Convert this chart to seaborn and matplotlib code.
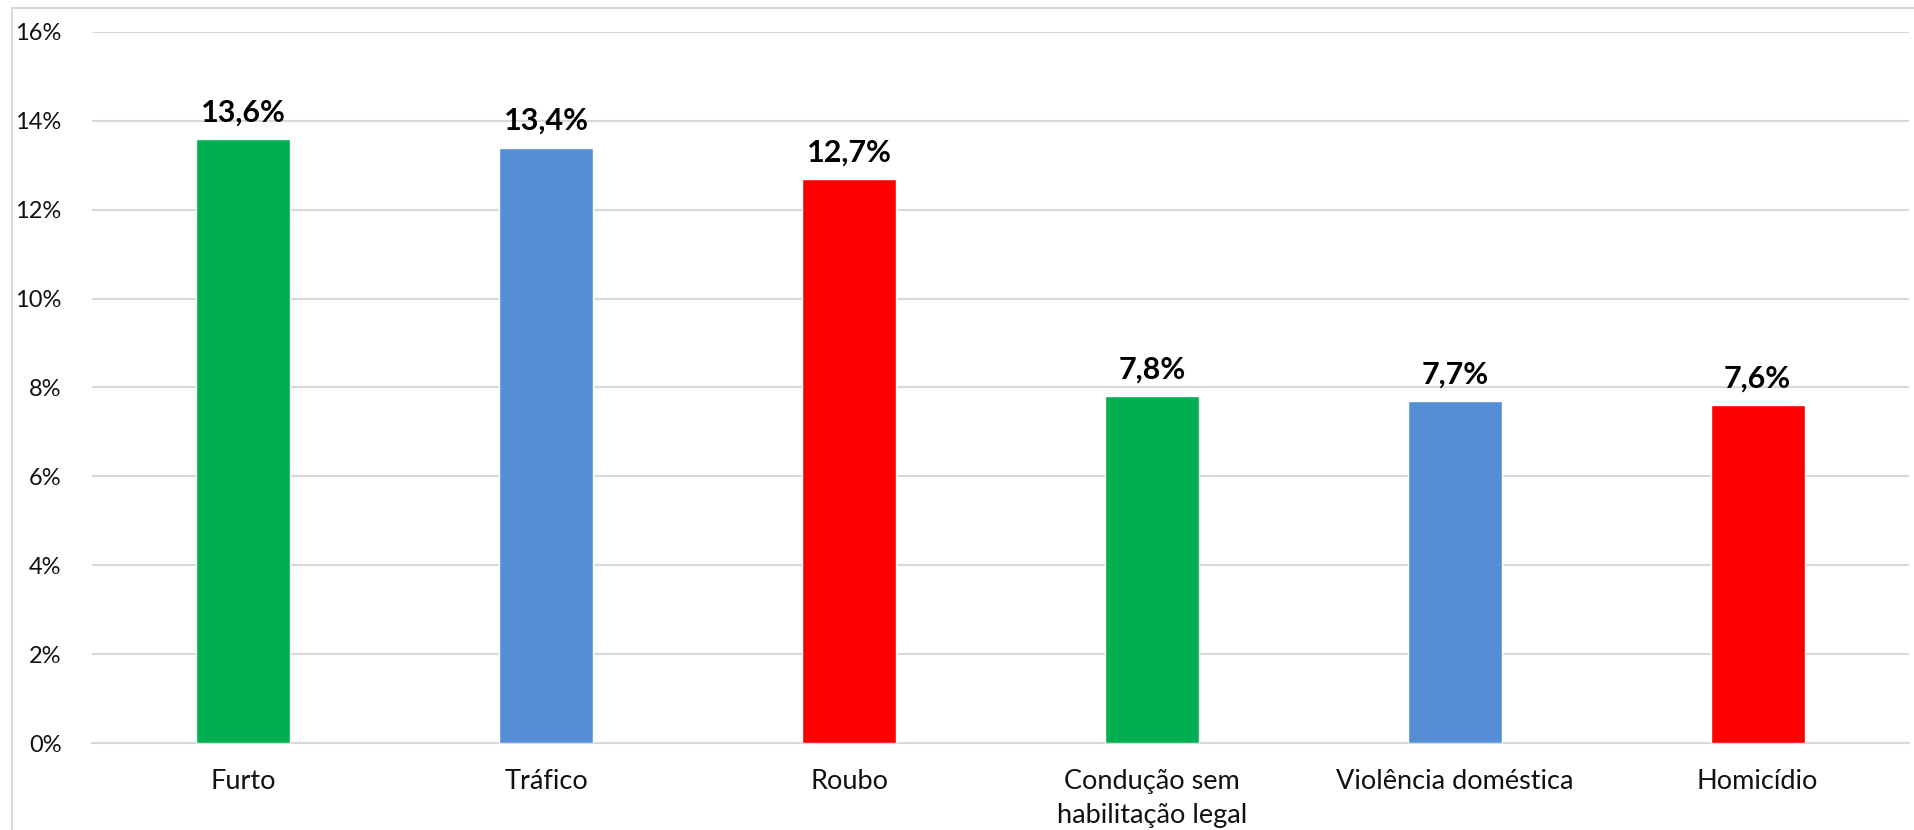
import matplotlib
matplotlib.use("Agg")
import matplotlib.pyplot as plt
from matplotlib.patches import Rectangle
from matplotlib.ticker import FixedLocator
import seaborn as sns
import pandas as pd

categories = ["Furto", "Tráfico", "Roubo", "Condução sem\nhabilitação legal",
              "Violência doméstica", "Homicídio"]
values = [13.6, 13.4, 12.7, 7.8, 7.7, 7.6]
colors = ["#00B050", "#558ED5", "#FF0000", "#00B050", "#558ED5", "#FF0000"]
yticks = [0, 2, 4, 6, 8, 10, 12, 14, 16]

sns.set_theme(style="white")
plt.rcParams['font.family'] = ['Lato', 'DejaVu Sans']

df = pd.DataFrame({"cat": categories, "val": values})

fig = plt.figure(figsize=(19.14, 8.30), dpi=100)
ax = fig.add_axes([92/1914, 1-743/830, (1909-92)/1914, (743-32)/830])

sns.barplot(data=df, x="cat", y="val", hue="cat", palette=colors,
            order=categories, hue_order=categories, legend=False,
            width=0.31, saturation=1, ax=ax, zorder=3)

ax.set_ylim(0, 16)
ax.yaxis.set_major_locator(FixedLocator(yticks))
ax.set_yticklabels([f"{t}%" for t in yticks])
ax.grid(axis="y", color="#D9D9D9", linewidth=1.5, zorder=0)
ax.set_axisbelow(True)
for s in ["left", "right", "top"]:
    ax.spines[s].set_visible(False)
ax.spines["bottom"].set_color("#D9D9D9")
ax.spines["bottom"].set_linewidth(1.5)
ax.set_xlabel("")
ax.set_ylabel("")
ax.tick_params(axis="y", length=0, pad=22, labelsize=17, labelcolor="#111111")
ax.tick_params(axis="x", length=0, pad=19, labelsize=19.5, labelcolor="#111111")
for lbl in ax.get_xticklabels():
    lbl.set_linespacing(1.45)
    lbl.set_verticalalignment("top")

for i, v in enumerate(values):
    ax.annotate(f"{v:.1f}".replace(".", ",") + "%", (i, v),
                xytext=(0, 9), textcoords="offset points",
                ha="center", va="bottom", fontsize=22, fontweight="bold",
                color="#000000")

fig.add_artist(Rectangle((12/1914, -0.1), 1.2, 1 - 8/830 + 0.1,
                         transform=fig.transFigure, fill=False,
                         edgecolor="#D9D9D9", linewidth=1.5))

fig.savefig("out.png", dpi=100)
